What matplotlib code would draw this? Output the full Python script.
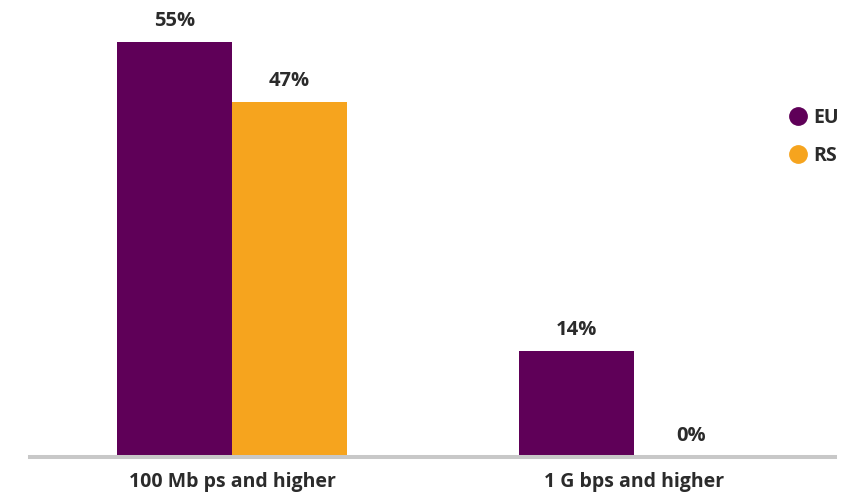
import matplotlib
matplotlib.use("Agg")
import matplotlib.pyplot as plt
from matplotlib.lines import Line2D
import numpy as np

categories = ["100 Mb ps and higher", "1 G bps and higher"]
series_names = ["EU", "RS"]
eu_values = [55, 14]
rs_values = [47, 0]
colors = ["#5f0058", "#f6a41e"]
text_color = "#2b2b2b"

plt.rcParams["font.family"] = ["Open Sans", "DejaVu Sans"]

W, H = 843, 494
fig = plt.figure(figsize=(W / 100, H / 100), dpi=100)
base_y = 457.0
left_px, right_px = 30, 835
ax = fig.add_axes([left_px / W, (H - base_y) / H, (right_px - left_px) / W, base_y / H])

x = np.arange(len(categories))
width = 0.286
per_px = 1 / 402.0
ax.set_xlim(0 - (232 - left_px) * per_px, 1 + (right_px - 634) * per_px)
ax.set_ylim(0, base_y / 7.55)

for i, (vals, name) in enumerate(zip([eu_values, rs_values], series_names)):
    xs = x + (i - 0.5) * width
    ax.bar(xs, vals, width=width, color=colors[i], label=name, zorder=2)
    for xi, v in zip(xs, vals):
        ax.annotate(f"{v}%", (xi, v), xytext=(0, 8), textcoords="offset points",
                    ha="center", va="bottom", fontsize=14.5, fontweight="bold",
                    color=text_color)

for s in ["top", "right", "left"]:
    ax.spines[s].set_visible(False)
ax.spines["bottom"].set_color("#c8c8c8")
ax.spines["bottom"].set_linewidth(2.9)
ax.set_yticks([])
ax.set_xticks(x)
ax.set_xticklabels(categories, fontsize=14, fontweight="bold", color=text_color)
ax.tick_params(axis="x", length=0, pad=11)

handles = [Line2D([], [], marker="o", linestyle="none", markersize=12.5,
                  markerfacecolor=c, markeredgecolor=c) for c in colors]
fig.legend(handles, series_names, loc="upper left",
           bbox_to_anchor=(779 / W, 1 - 100 / H), frameon=False,
           prop={"weight": "bold", "size": 14},
           labelspacing=0.95, handletextpad=0.15, borderaxespad=0,
           handlelength=1.2, labelcolor=text_color)

fig.savefig("out.png", dpi=100)
